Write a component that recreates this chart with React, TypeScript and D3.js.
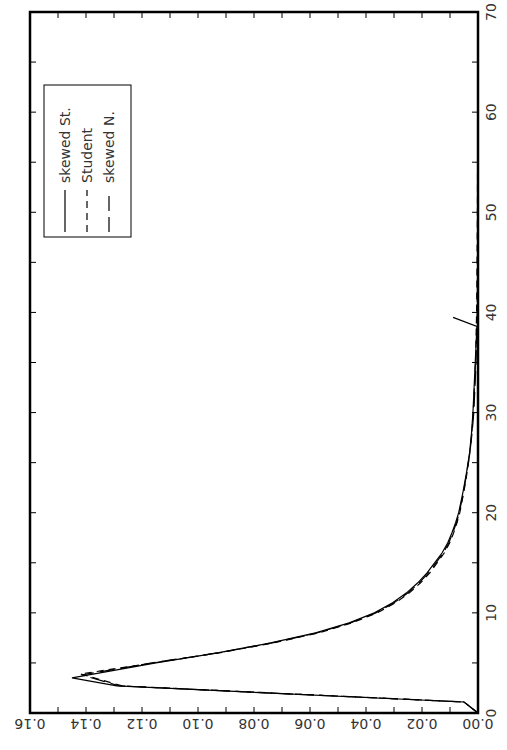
import React from "react";
import * as d3 from "d3";

// Density estimates: [x, density]
const skewedSt: [number, number][] = [
  [0, 0], [1.1, 0.005], [2.7, 0.129], [3.5, 0.145], [5, 0.115], [6, 0.093],
  [7, 0.074], [8, 0.058], [9, 0.046], [10, 0.037], [11, 0.0305], [12, 0.0255],
  [13, 0.0215], [14, 0.0182], [15, 0.0155], [16, 0.0128], [17, 0.0108],
  [18, 0.0093], [19, 0.008], [20, 0.0069], [22, 0.0054], [24, 0.0041],
  [26, 0.003], [28, 0.0023], [30, 0.0018], [38.6, 0.0004], [39.5, 0.0089],
];
const student: [number, number][] = [
  [0, 0], [1.1, 0.005], [2.7, 0.127], [3.9, 0.142], [5, 0.116], [6, 0.0925],
  [7, 0.073], [8, 0.057], [9, 0.045], [10, 0.036], [11, 0.0295], [12, 0.0245],
  [13, 0.0205], [14, 0.0172], [15, 0.0146], [16, 0.012], [17, 0.0101],
  [18, 0.0087], [19, 0.0075], [20, 0.0065], [22, 0.0051], [24, 0.0039],
  [26, 0.0029], [28, 0.0022], [30, 0.0017], [35, 0.0009], [40, 0.0005],
  [50, 0.0002], [60, 0.0001],
];
const skewedN: [number, number][] = [
  [0, 0], [1.1, 0.005], [2.7, 0.128], [3.8, 0.1415], [5, 0.1165], [6, 0.093],
  [7, 0.0735], [8, 0.0575], [9, 0.0455], [10, 0.0365], [11, 0.03], [12, 0.025],
  [13, 0.021], [14, 0.0177], [15, 0.015], [16, 0.0124], [17, 0.0104],
  [18, 0.009], [19, 0.0077], [20, 0.0067], [22, 0.0052], [24, 0.004],
  [26, 0.0029], [28, 0.0021], [30, 0.0015], [35, 0.0007], [40, 0.0003],
  [45, 0.0001], [50, 0],
];

const xTicksMajor = [0, 10, 20, 30, 40, 50, 60, 70];
const xTicksMinor = [5, 10, 15, 20, 25, 30, 35, 40, 45, 50, 55, 60, 65];
const yTicksMajor = [0, 0.02, 0.04, 0.06, 0.08, 0.1, 0.12, 0.14, 0.16];
const yTicksMinor = [0.01, 0.02, 0.03, 0.04, 0.05, 0.06, 0.07, 0.08, 0.09, 0.1, 0.11, 0.12, 0.13, 0.14, 0.15];

const legendItems = [
  { label: "skewed St.", dash: "none", data: skewedSt },
  { label: "Student", dash: "7,5", data: student },
  { label: "skewed N.", dash: "15,6", data: skewedN },
];

const W = 507;
const H = 750;
const left = 30;
const right = 478;
const top = 12;
const bottom = 713;
const font = "'DejaVu Sans', Verdana, sans-serif";
const textColor = "#333";

export default function App() {
  // The plot is drawn in portrait: the x variable runs upward, density runs leftward.
  const xs = d3.scaleLinear().domain([0, 70]).range([bottom, top]);
  const ys = d3.scaleLinear().domain([0, 0.16]).range([right, left]);
  const line = d3
    .line<[number, number]>()
    .x((d) => ys(d[1]))
    .y((d) => xs(d[0]));

  const tickLen = 6;

  return (
    <svg
      width={W}
      height={H}
      style={{ position: "absolute", left: 0, top: 0, background: "#fff" }}
    >
      <rect x={0} y={0} width={W} height={H} fill="#fff" />

      {/* curves */}
      {legendItems.map((s) => (
        <path
          key={s.label}
          d={line(s.data) || ""}
          fill="none"
          stroke="#000"
          strokeWidth={1.2}
          strokeLinejoin="miter"
          strokeDasharray={s.dash}
        />
      ))}

      {/* ticks along left and right edges (x variable) */}
      {xTicksMinor.map((t) => (
        <g key={"xt" + t}>
          <line x1={left} x2={left + tickLen} y1={xs(t)} y2={xs(t)} stroke="#000" strokeWidth={1} />
          <line x1={right} x2={right - tickLen} y1={xs(t)} y2={xs(t)} stroke="#000" strokeWidth={1} />
        </g>
      ))}
      {/* ticks along top and bottom edges (density) */}
      {yTicksMinor.map((v) => (
        <g key={"yt" + v}>
          <line x1={ys(v)} x2={ys(v)} y1={bottom} y2={bottom - tickLen} stroke="#000" strokeWidth={1} />
          <line x1={ys(v)} x2={ys(v)} y1={top} y2={top + tickLen} stroke="#000" strokeWidth={1} />
        </g>
      ))}

      {/* frame */}
      <rect
        x={left}
        y={top}
        width={right - left}
        height={bottom - top}
        fill="none"
        stroke="#000"
        strokeWidth={2.5}
      />

      {/* x labels on the right, rotated */}
      {xTicksMajor.map((t) => (
        <text
          key={"xl" + t}
          transform={`translate(${491},${xs(t)}) rotate(-90)`}
          textAnchor="middle"
          dominantBaseline="central"
          fontFamily={font}
          fontSize={14}
          fill={textColor}
        >
          {t}
        </text>
      ))}

      {/* density labels along the bottom, upside down */}
      {yTicksMajor.map((v) => (
        <text
          key={"yl" + v}
          transform={`translate(${ys(v)},${724}) rotate(180)`}
          textAnchor="middle"
          dominantBaseline="central"
          fontFamily={font}
          fontSize={14}
          fill={textColor}
        >
          {d3.format(".2f")(v)}
        </text>
      ))}

      {/* legend */}
      <rect x={44} y={85} width={87} height={152} fill="#fff" stroke="#000" strokeWidth={1} />
      {legendItems.map((s, i) => {
        const cx = 65 + i * 22;
        return (
          <g key={"lg" + s.label}>
            <line
              x1={cx}
              x2={cx}
              y1={232}
              y2={190}
              stroke="#000"
              strokeWidth={1.2}
              strokeDasharray={s.dash}
            />
            <text
              transform={`translate(${cx},${183}) rotate(-90)`}
              textAnchor="start"
              dominantBaseline="central"
              fontFamily={font}
              fontSize={14}
              fill={textColor}
            >
              {s.label}
            </text>
          </g>
        );
      })}
    </svg>
  );
}
